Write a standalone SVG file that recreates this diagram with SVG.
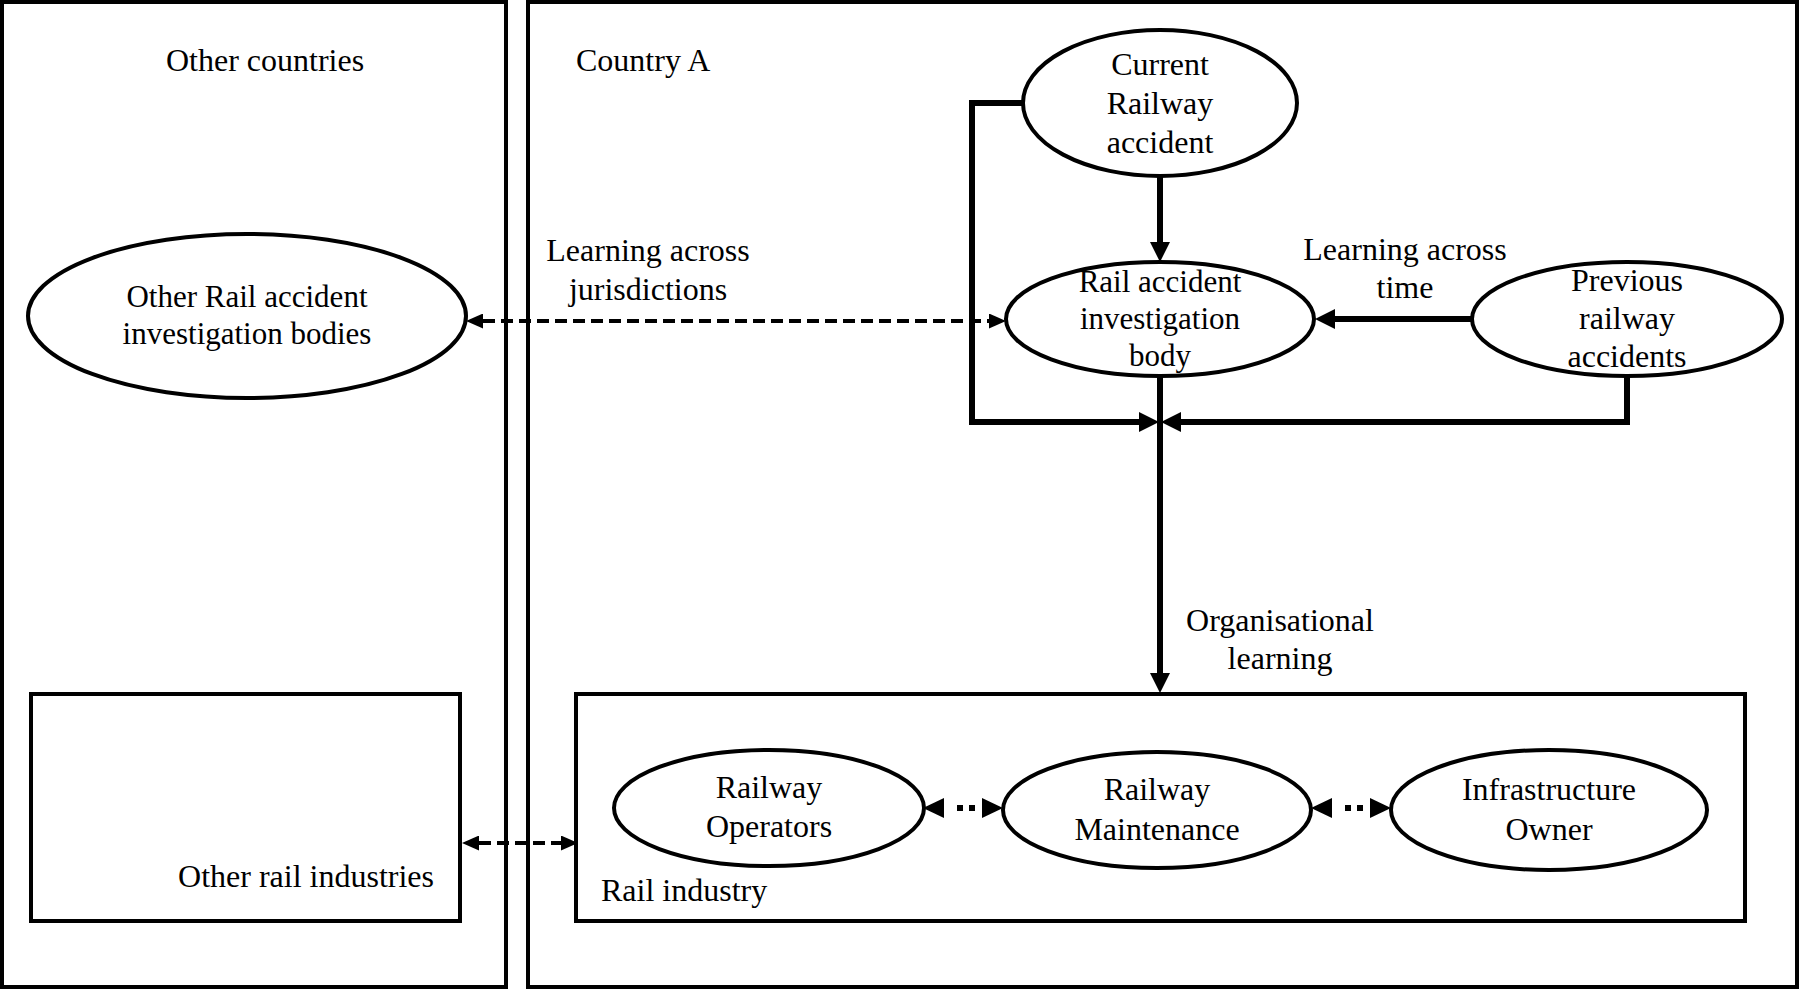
<svg xmlns="http://www.w3.org/2000/svg" width="1799" height="989" viewBox="0 0 1799 989">
<style>
  .frame { fill: none; stroke: #000; stroke-width: 4; }
  .node { fill: #fff; stroke: #000; stroke-width: 4; }
  .t { font-family: 'Liberation Serif', 'DejaVu Serif', serif; font-size: 32px; fill: #000; }
  .s { font-size: 31px; }
  .c { text-anchor: middle; }
  .solid { fill: none; stroke: #000; stroke-width: 6; marker-end: url(#ah); }
  .dash { fill: none; stroke: #000; stroke-width: 4; stroke-dasharray: 12 6; marker-start: url(#dh); marker-end: url(#dh); }
  .dot { fill: none; stroke: #000; stroke-width: 6; stroke-dasharray: 0 13 6 6 6 100; marker-start: url(#th); marker-end: url(#th); }
</style>
<defs>
  <marker id="ah" markerUnits="userSpaceOnUse" markerWidth="20" markerHeight="20" refX="0" refY="10" orient="auto">
    <path d="M0,0 L20,10 L0,20 Z" fill="#000"/>
  </marker>
  <marker id="dh" markerUnits="userSpaceOnUse" markerWidth="17" markerHeight="15" refX="0" refY="7.5" orient="auto-start-reverse">
    <path d="M0,0 L17,7.5 L0,15 Z" fill="#000"/>
  </marker>
  <marker id="th" markerUnits="userSpaceOnUse" markerWidth="21" markerHeight="20" refX="0" refY="10" orient="auto-start-reverse">
    <path d="M0,0 L21,10 L0,20 Z" fill="#000"/>
  </marker>
</defs>
<rect width="1799" height="989" fill="#fff"/>

<g id="other-countries">
  <rect class="frame" x="2" y="2" width="504" height="985"/>
  <text class="t c" x="265" y="71">Other countries</text>
</g>
<g id="country-a">
  <rect class="frame" x="528" y="2" width="1269" height="985"/>
  <text class="t" x="576" y="71">Country A</text>
</g>

<g id="connectors">
  <path class="solid" d="M1160,176 V242"/>
  <path class="solid" d="M1023,103 H972 V422 H1139"/>
  <path class="solid" d="M1627,376 V422 H1181"/>
  <path class="solid" d="M1472,319 H1335"/>
  <path class="solid" d="M1160,377 V673"/>
  <path class="dash" d="M483,321 H989"/>
  <path class="dash" d="M479,843 H561"/>
  <path class="dot" d="M944,808 H982"/>
  <path class="dot" d="M1332,808 H1370"/>
</g>

<g id="current-accident">
  <ellipse class="node" cx="1160" cy="103" rx="137" ry="73"/>
  <text class="t c" x="1160" y="75">Current</text>
  <text class="t c" x="1160" y="114">Railway</text>
  <text class="t c" x="1160" y="153">accident</text>
</g>
<g id="rail-body">
  <ellipse class="node" cx="1160" cy="319" rx="154" ry="57"/>
  <text class="t s c" x="1160" y="292">Rail accident</text>
  <text class="t s c" x="1160" y="329">investigation</text>
  <text class="t s c" x="1160" y="366">body</text>
</g>
<g id="previous-accidents">
  <ellipse class="node" cx="1627" cy="319" rx="155" ry="57"/>
  <text class="t c" x="1627" y="291">Previous</text>
  <text class="t c" x="1627" y="329">railway</text>
  <text class="t c" x="1627" y="367">accidents</text>
</g>
<g id="other-bodies">
  <ellipse class="node" cx="247" cy="316" rx="219" ry="82"/>
  <text class="t s c" x="247" y="307">Other Rail accident</text>
  <text class="t s c" x="247" y="344">investigation bodies</text>
</g>

<g id="label-time">
  <text class="t c" x="1405" y="260">Learning across</text>
  <text class="t c" x="1405" y="298">time</text>
</g>
<g id="label-jurisdictions">
  <text class="t c" x="648" y="261">Learning across</text>
  <text class="t c" x="648" y="300">jurisdictions</text>
</g>
<g id="label-organisational">
  <text class="t c" x="1280" y="631">Organisational</text>
  <text class="t c" x="1280" y="669">learning</text>
</g>

<g id="rail-industry">
  <rect class="frame" x="576" y="694" width="1169" height="227"/>
  <text class="t" x="601" y="901">Rail industry</text>
</g>
<g id="railway-operators">
  <ellipse class="node" cx="769" cy="808" rx="155" ry="58"/>
  <text class="t c" x="769" y="798">Railway</text>
  <text class="t c" x="769" y="837">Operators</text>
</g>
<g id="railway-maintenance">
  <ellipse class="node" cx="1157" cy="810" rx="154" ry="58"/>
  <text class="t c" x="1157" y="800">Railway</text>
  <text class="t c" x="1157" y="840">Maintenance</text>
</g>
<g id="infrastructure-owner">
  <ellipse class="node" cx="1549" cy="810" rx="158" ry="60"/>
  <text class="t c" x="1549" y="800">Infrastructure</text>
  <text class="t c" x="1549" y="840">Owner</text>
</g>

<g id="other-rail-industries">
  <rect class="frame" x="31" y="694" width="429" height="227"/>
  <text class="t" x="434" y="887" text-anchor="end">Other rail industries</text>
</g>
</svg>
